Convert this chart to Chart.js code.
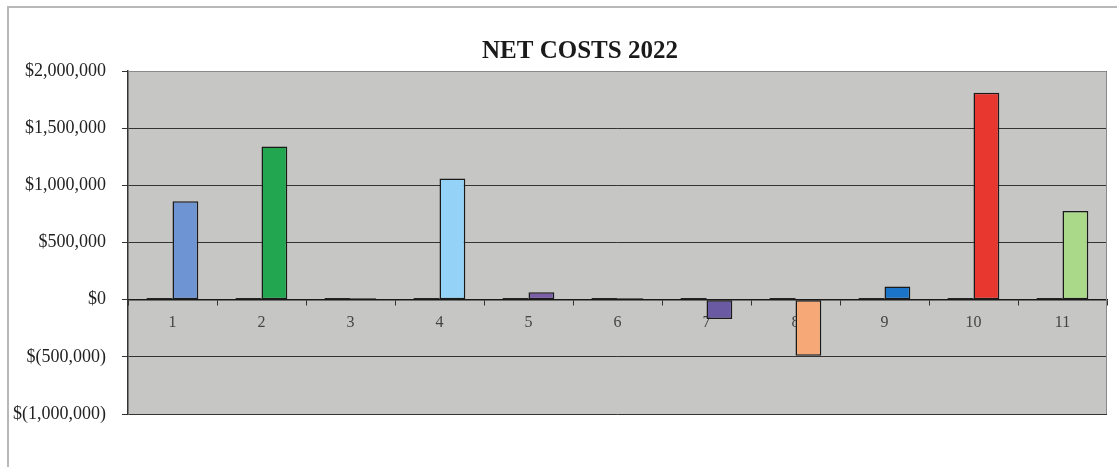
<!DOCTYPE html>
<html>
<head>
<meta charset="utf-8">
<title>Net Costs 2022</title>
<script src="https://cdn.jsdelivr.net/npm/chart.js@4/dist/chart.umd.min.js"></script>
<style>
  html, body { margin: 0; padding: 0; background: #fff; }
  #wrap { position: absolute; left: 0; top: 0; width: 1117px; height: 467px; }
</style>
</head>
<body>
<div id="wrap"><canvas id="netCosts" width="1117" height="467"></canvas></div>
<script>
const chartTitle = "NET COSTS 2022";
const categories = ["1", "2", "3", "4", "5", "6", "7", "8", "9", "10", "11"];
// small left-hand series, sits almost on the zero line
const baseValues = [14000, 14000, 14000, 14000, 14000, 14000, 14000, 14000, 14000, 14000, 14000];
const netValues = [860000, 1340000, 12000, 1060000, 65000, 12000, -170000, -490000, 115000, 1810000, 775000];
const barColors = ["#6f94d4", "#22a650", "#2a2a2a", "#94d3f7", "#7b5ea8", "#2a2a2a",
                   "#6a5aa3", "#f6a877", "#1c74c8", "#e8372e", "#abd98a"];

const serif = "'Liberation Serif', 'Times New Roman', serif";

function money(v) {
  const s = Math.abs(v).toLocaleString("en-US");
  return v < 0 ? "$(" + s + ")" : "$" + s;
}

// gray plot background, plot frame, outer frame lines and the heading
const frame = {
  id: "frame",
  beforeDraw(chart) {
    const ctx = chart.ctx;
    const a = chart.chartArea;
    ctx.save();
    ctx.fillStyle = "#c6c6c4";
    ctx.fillRect(a.left, a.top, a.right - a.left, a.bottom - a.top);
    ctx.strokeStyle = "#b8b8b8";
    ctx.lineWidth = 2;
    ctx.beginPath();
    ctx.moveTo(8, 467);
    ctx.lineTo(8, 7);
    ctx.lineTo(1117, 7);
    ctx.stroke();
    ctx.fillStyle = "#1a1a1a";
    ctx.font = "bold 25px " + serif;
    ctx.textAlign = "center";
    ctx.textBaseline = "middle";
    ctx.fillText(chartTitle, 580, 52);
    ctx.restore();
  },
  afterDraw(chart) {
    const ctx = chart.ctx;
    const a = chart.chartArea;
    ctx.save();
    ctx.lineWidth = 1;
    ctx.strokeStyle = "#8a8a8a";
    ctx.beginPath();
    ctx.moveTo(a.left, a.top + 0.5);
    ctx.lineTo(a.right - 0.5, a.top + 0.5);
    ctx.lineTo(a.right - 0.5, a.bottom);
    ctx.stroke();
    ctx.restore();
  }
};

new Chart(document.getElementById("netCosts"), {
  type: "bar",
  data: {
    labels: categories,
    datasets: [
      {
        data: baseValues,
        backgroundColor: "#1a1a1a",
        borderColor: "#1a1a1a",
        borderWidth: 0
      },
      {
        data: netValues,
        backgroundColor: barColors,
        borderColor: "#1a1a1a",
        borderWidth: 1.5,
        borderSkipped: false
      }
    ]
  },
  options: {
    responsive: false,
    animation: false,
    layout: { padding: { left: 8, right: 10, top: 71, bottom: 53 } },
    datasets: { bar: { barPercentage: 1, categoryPercentage: 0.58 } },
    plugins: {
      legend: { display: false },
      tooltip: { enabled: false },
      title: { display: false }
    },
    scales: {
      x: {
        position: { y: 0 },
        afterFit(s) { s.height = 0; },
        grid: {
          offset: true,
          drawOnChartArea: false,
          drawTicks: true,
          tickLength: 5,
          color: "#333"
        },
        border: { display: true, color: "#1a1a1a", width: 1.5 },
        ticks: {
          color: "#444",
          padding: 9,
          font: { family: serif, size: 16 }
        }
      },
      y: {
        min: -1000000,
        max: 2000000,
        afterFit(s) { s.width = 120; },
        grid: { color: "#333", lineWidth: 1, tickLength: 6 },
        border: { display: true, color: "#333", width: 1.5 },
        ticks: {
          stepSize: 500000,
          color: "#222",
          padding: 16,
          font: { family: serif, size: 18 },
          callback: (v) => money(v)
        }
      }
    }
  },
  plugins: [frame]
});
</script>
</body>
</html>
